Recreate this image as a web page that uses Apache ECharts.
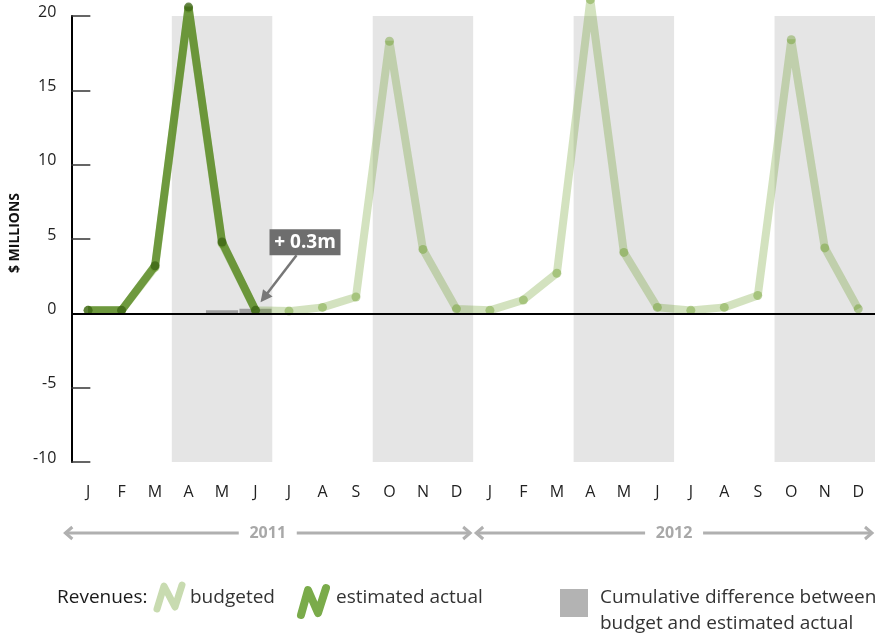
<!DOCTYPE html>
<html>
<head>
<meta charset="utf-8">
<script src="https://cdn.jsdelivr.net/npm/echarts@6/dist/echarts.min.js"></script>
<style>
html,body{margin:0;padding:0;background:#fff;}
#chart{width:875px;height:639px;}
</style>
</head>
<body>
<div id="chart"></div>
<script>
// ---- data ----
const categories = ['2011-01','2011-02','2011-03','2011-04','2011-05','2011-06','2011-07','2011-08','2011-09','2011-10','2011-11','2011-12',
                    '2012-01','2012-02','2012-03','2012-04','2012-05','2012-06','2012-07','2012-08','2012-09','2012-10','2012-11','2012-12'];
const monthLabels = ['J','F','M','A','M','J','J','A','S','O','N','D','J','F','M','A','M','J','J','A','S','O','N','D'];
const budgeted = [0.2,0.2,3.1,20.5,4.7,0.2, 0.15,0.4,1.1,18.3,4.3,0.3, 0.2,0.9,2.7,21.1,4.1,0.4, 0.2,0.4,1.2,18.4,4.4,0.3];
const actual   = [0.2,0.2,3.2,20.6,4.8,0.2, null,null,null,null,null,null, null,null,null,null,null,null, null,null,null,null,null,null];
const cumulativeDiff = [null,null,null,null,0.2,0.3, null,null,null,null,null,null, null,null,null,null,null,null, null,null,null,null,null,null];
const shadedRanges = [['2011-04','2011-06'],['2011-10','2011-12'],['2012-04','2012-06'],['2012-10','2012-12']];
const yTicks = {min:-10, max:20, interval:5};
const years = [{label:'2011', from:0, to:12}, {label:'2012', from:12, to:24}];
const annotationText = '+ 0.3m';
const annotationIndex = 5;

const FONT = '"Open Sans", "Noto Sans", sans-serif';
const chart = echarts.init(document.getElementById('chart'), null, {renderer:'canvas'});

chart.setOption({
  animation:false,
  backgroundColor:'#fff',
  grid:{left:68, top:16, width:812, height:446, containLabel:false},
  xAxis:[{
    type:'category', data:categories, boundaryGap:true,
    axisLine:{show:false}, axisTick:{show:false}, splitLine:{show:false},
    axisLabel:{formatter:(v,i)=>monthLabels[i], margin:22, fontSize:16, color:'#222', fontFamily:FONT, interval:0}
  },{
    type:'value', show:false, min:-0.5, max:categories.length-0.5,
    splitLine:{show:false}
  }],
  yAxis:{
    type:'value', min:yTicks.min, max:yTicks.max, interval:yTicks.interval,
    name:'$ MILLIONS', nameLocation:'middle', nameGap:46, nameRotate:90,
    nameTextStyle:{fontSize:14, fontWeight:'bold', color:'#111', fontFamily:FONT, padding:[0,0,0,12]},
    axisLine:{show:true, onZero:false, lineStyle:{color:'#000', width:2}},
    axisTick:{show:true, inside:true, length:19, lineStyle:{color:'#333', width:1.5}},
    splitLine:{show:false},
    axisLabel:{fontSize:16, color:'#222', fontFamily:FONT, margin:15, verticalAlign:'bottom', lineHeight:8}
  },
  series:[
    {
      name:'bands', type:'line', xAxisIndex:1, data:[], z:1, silent:true,
      symbol:'none', lineStyle:{width:0},
      markArea:{silent:true, itemStyle:{color:'#e5e5e5'},
        data:shadedRanges.map(r=>[{xAxis:categories.indexOf(r[0])-0.5},{xAxis:categories.indexOf(r[1])+0.5}])},
      markLine:{silent:true, symbol:['none','none'], label:{show:false},
        lineStyle:{color:'#000', width:2, type:'solid'}, data:[{yAxis:0}]}
    },
    {
      name:'Cumulative difference', type:'bar', data:cumulativeDiff, z:2,
      barWidth:'96%', itemStyle:{color:'#9e9e9e'}, silent:true
    },
    {
      name:'budgeted', type:'line', data:budgeted, z:3, clip:false,
      symbol:'circle', symbolSize:9, showAllSymbol:true,
      lineStyle:{color:'rgba(92,148,18,0.27)', width:8},
      itemStyle:{color:'rgba(92,148,18,0.38)', borderWidth:0}
    },
    {
      name:'estimated actual', type:'line', data:actual, z:4, clip:false,
      symbol:'circle', symbolSize:9, showAllSymbol:true,
      lineStyle:{color:'rgba(85,135,30,0.8)', width:8},
      itemStyle:{color:'rgba(60,100,20,0.75)', borderWidth:0}
    }
  ]
});

// ---- graphics derived from scales ----
function px(idx, val){ return chart.convertToPixel({gridIndex:0}, [idx, val]); }
const p0 = px(0,0), p1 = px(1,0);
const bw = p1[0]-p0[0];
const edge = i => p0[0] - bw/2 + i*bw;
const graphics = [];

// year arrows
const yArrow = 533;
const arrowColor = '#b0b0b0';
years.forEach((y,k)=>{
  const xs = edge(y.from) + (k===0 ? -6 : 3);
  const xe = edge(y.to) - 3;
  const cx = (xs+xe)/2;
  const gap = 29;
  graphics.push({type:'line', shape:{x1:xs, y1:yArrow, x2:cx-gap, y2:yArrow}, style:{stroke:arrowColor, lineWidth:3}, silent:true});
  graphics.push({type:'line', shape:{x1:cx+gap, y1:yArrow, x2:xe, y2:yArrow}, style:{stroke:arrowColor, lineWidth:3}, silent:true});
  graphics.push({type:'polyline', shape:{points:[[xs+7,yArrow-6],[xs,yArrow],[xs+7,yArrow+6]]}, style:{stroke:arrowColor, lineWidth:3, fill:null}, silent:true});
  graphics.push({type:'polyline', shape:{points:[[xe-7,yArrow-6],[xe,yArrow],[xe-7,yArrow+6]]}, style:{stroke:arrowColor, lineWidth:3, fill:null}, silent:true});
  graphics.push({type:'text', x:cx, y:yArrow, style:{text:y.label, fill:'#a8a8a8', font:'bold 16px '+FONT, textAlign:'center', textVerticalAlign:'middle'}, silent:true});
});

// annotation
const ap = px(annotationIndex, actual[annotationIndex]);
const boxX = ap[0]+14, boxY = ap[1]-81, boxW = 71, boxH = 26;
graphics.push({type:'rect', shape:{x:boxX, y:boxY, width:boxW, height:boxH}, style:{fill:'#6e6e6e'}, z:100, silent:true});
graphics.push({type:'text', x:boxX+boxW/2, y:boxY+boxH/2, style:{text:annotationText, fill:'#fff', font:'bold 19px '+FONT, textAlign:'center', textVerticalAlign:'middle'}, z:101, silent:true});
const ax1 = ap[0]+41, ay1 = ap[1]-55, ax2 = ap[0]+5, ay2 = ap[1]-8;
graphics.push({type:'line', shape:{x1:ax1, y1:ay1, x2:ax2+3, y2:ay2-4}, style:{stroke:'#777', lineWidth:2.5}, z:100, silent:true});
(function(){
  const ang = Math.atan2(ay2-ay1, ax2-ax1);
  const L = 12, w = 6;
  const bx = ax2 - L*Math.cos(ang), by = ay2 - L*Math.sin(ang);
  const nx = -Math.sin(ang)*w, ny = Math.cos(ang)*w;
  graphics.push({type:'polygon', shape:{points:[[ax2,ay2],[bx+nx,by+ny],[bx-nx,by-ny]]}, style:{fill:'#777'}, z:100, silent:true});
})();

// legend
const legY = 598;
const LF = '19px '+FONT;
graphics.push({type:'text', x:57, y:legY, style:{text:'Revenues:', fill:'#1a1a1a', font:LF, textVerticalAlign:'middle'}, silent:true});
graphics.push({type:'polyline', shape:{points:[[157,609],[164,586],[175,607],[182,585]]}, style:{stroke:'#c8dbb0', lineWidth:7, fill:null, lineCap:'round', lineJoin:'round'}, silent:true});
graphics.push({type:'text', x:190, y:legY, style:{text:'budgeted', fill:'#333', font:LF, textVerticalAlign:'middle'}, silent:true});
graphics.push({type:'polyline', shape:{points:[[301,615],[308,590],[318,613],[326,588]]}, style:{stroke:'#7aab4a', lineWidth:8, fill:null, lineCap:'round', lineJoin:'round'}, silent:true});
graphics.push({type:'text', x:336, y:legY, style:{text:'estimated actual', fill:'#333', font:LF, textVerticalAlign:'middle'}, silent:true});
graphics.push({type:'rect', shape:{x:560, y:589, width:28, height:28}, style:{fill:'#b3b3b3'}, silent:true});
graphics.push({type:'text', x:600, y:legY, style:{text:'Cumulative difference between', fill:'#333', font:LF, textVerticalAlign:'middle'}, silent:true});
graphics.push({type:'text', x:600, y:624, style:{text:'budget and estimated actual', fill:'#333', font:LF, textVerticalAlign:'middle'}, silent:true});

chart.setOption({graphic:graphics});
</script>
</body>
</html>
